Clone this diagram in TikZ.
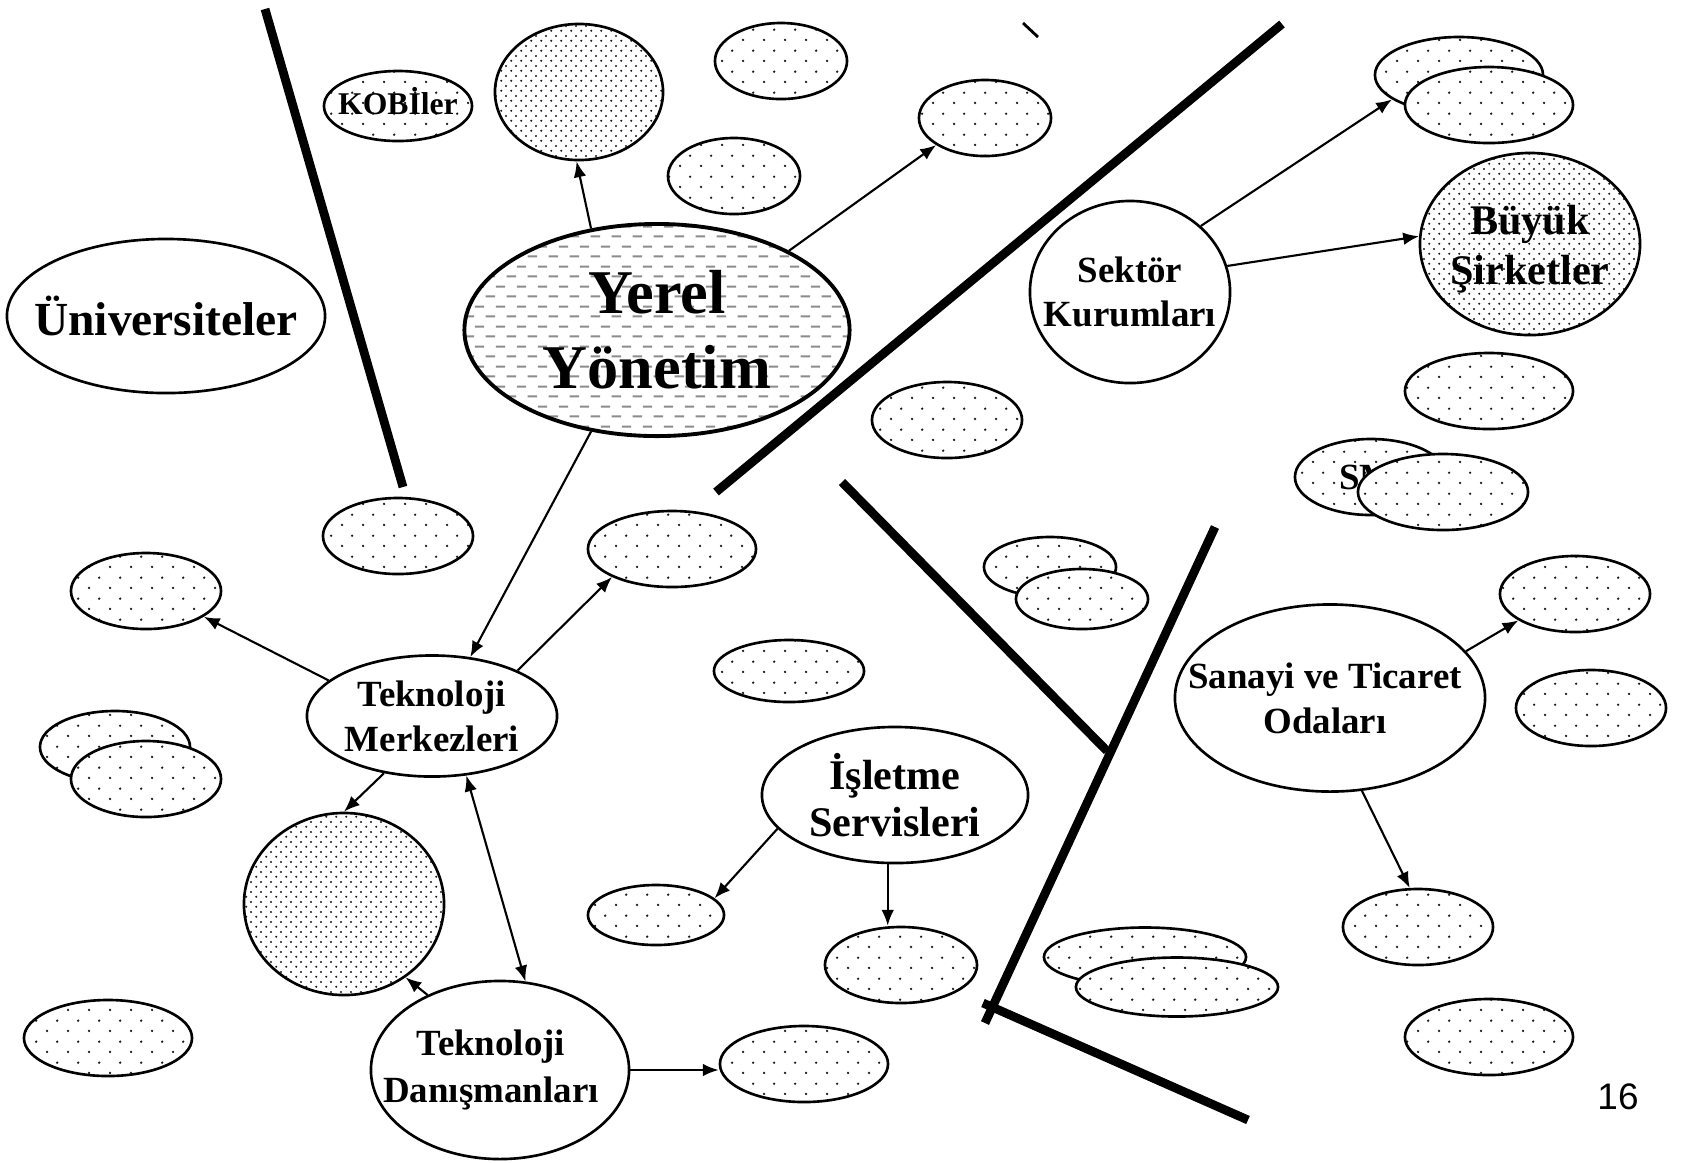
\documentclass[tikz,border=0pt]{standalone}
\usepackage{fontspec}
\setmainfont{Liberation Serif}
\newfontfamily\slidefont{Liberation Sans}
\usetikzlibrary{shapes.geometric}
\usetikzlibrary{arrows.meta}
\usetikzlibrary{patterns}

\pgfdeclarepatternformonly{sparsedots}{\pgfpointorigin}{\pgfpoint{6pt}{6pt}}{\pgfpoint{6pt}{6pt}}{%
  \pgfpathcircle{\pgfpoint{1.5pt}{1.5pt}}{0.38pt}%
  \pgfpathcircle{\pgfpoint{4.5pt}{4.5pt}}{0.38pt}%
  \pgfusepath{fill}}
\pgfdeclarepatternformonly{densedots}{\pgfpointorigin}{\pgfpoint{2.9pt}{2.9pt}}{\pgfpoint{2.9pt}{2.9pt}}{%
  \pgfpathcircle{\pgfpoint{0.7pt}{0.7pt}}{0.34pt}%
  \pgfpathcircle{\pgfpoint{2.15pt}{2.15pt}}{0.34pt}%
  \pgfusepath{fill}}
\pgfdeclarepatternformonly{dashrows}{\pgfpointorigin}{\pgfpoint{6pt}{5.7pt}}{\pgfpoint{6pt}{5.7pt}}{%
  \pgfpathrectangle{\pgfpoint{0.2pt}{1.1pt}}{\pgfpoint{2.8pt}{0.6pt}}%
  \pgfpathrectangle{\pgfpoint{3.2pt}{3.95pt}}{\pgfpoint{2.8pt}{0.6pt}}%
  \pgfusepath{fill}}

\tikzset{
  oval/.style={ellipse, draw, line width=0.75pt, inner sep=0pt},
  spot/.style={oval, preaction={fill=white}, pattern=sparsedots, pattern color=black!90},
  blot/.style={oval, preaction={fill=white}, pattern=densedots, pattern color=black!90},
  whiteoval/.style={oval, fill=white},
  lbl/.style={font=\bfseries\fontsize{10.5}{12.8}\selectfont, align=center, inner sep=0pt},
  link/.style={->, line width=0.6pt},
  wall/.style={line width=2.5pt}
}

\begin{document}
\begin{tikzpicture}[x=0.01cm, y=-0.01cm, >={Latex[length=4.5pt,width=3.6pt]}]
\useasboundingbox (0,0) rectangle (1681,1162);

% dividing lines
\draw[wall] (265,9) -- (403,487);
\draw[wall] (716,492) -- (1282,24);
\draw[wall] (842,482) -- (1107,751);
\draw[wall] (1215,527) -- (985,1023);
\draw[wall] (983,1003) -- (1248,1120);
\draw[line width=0.8pt] (1023,23) -- (1038,37);

% actors
\node[oval, line width=1.1pt, preaction={fill=white}, pattern=dashrows, pattern color=black!45,
  minimum width=3.85cm, minimum height=2.12cm,
  label={[lbl, font=\bfseries\fontsize{17.7}{21.3}\selectfont]center:{Yerel\\Yönetim}}] (yerel) at (657,330) {};
\node[whiteoval, minimum width=3.18cm, minimum height=1.54cm,
  label={[lbl, font=\bfseries\fontsize{13.5}{16}\selectfont]center:Üniversiteler}] (univ) at (166,316) {};
\node[whiteoval, minimum width=2.0cm, minimum height=1.82cm,
  label={[lbl, font=\bfseries\fontsize{10.5}{12.3}\selectfont]center:{Sektör\\Kurumları}}] (sektor) at (1130,292) {};
\node[blot, minimum width=2.2cm, minimum height=1.82cm,
  label={[lbl, yshift=-0.05cm, font=\bfseries\fontsize{12}{14.2}\selectfont]center:{Büyük\\Şirketler}}] (buyuk) at (1530,244) {};
\node[whiteoval, minimum width=2.5cm, minimum height=1.21cm,
  label={[lbl]center:{Teknoloji\\Merkezleri}}] (tekmer) at (432,716) {};
\node[whiteoval, minimum width=2.58cm, minimum height=1.78cm,
  label={[lbl, xshift=-0.09cm, font=\bfseries\fontsize{10.5}{13.5}\selectfont]center:{Teknoloji\\Danışmanları}}] (tekdan) at (500,1070) {};
\node[whiteoval, minimum width=2.66cm, minimum height=1.36cm,
  label={[lbl, font=\bfseries\fontsize{12}{13.5}\selectfont]center:{İşletme\\Servisleri}}] (isletme) at (895,795) {};
\node[whiteoval, minimum width=3.1cm, minimum height=1.87cm,
  label={[lbl, xshift=-0.05cm]center:{Sanayi ve Ticaret\\Odaları}}] (sanayi) at (1330,698) {};

% small blobs
\node[spot, minimum width=1.48cm, minimum height=0.70cm,
  label={[lbl, yshift=0.05cm, font=\bfseries\fontsize{9}{11}\selectfont]center:KOBİler}] (kobi) at (398,106) {};
\node[blot, minimum width=1.68cm, minimum height=1.36cm] (dtop) at (579,92) {};
\node[spot, minimum width=1.32cm, minimum height=0.76cm] (sA) at (781,61) {};
\node[spot, minimum width=1.32cm, minimum height=0.76cm] (sB) at (985,118) {};
\node[spot, minimum width=1.32cm, minimum height=0.76cm] (sC) at (734,176) {};
\node[spot, minimum width=1.50cm, minimum height=0.76cm] (sD) at (398,536) {};
\node[spot, minimum width=1.50cm, minimum height=0.76cm] (sE) at (146,591) {};
\node[spot, minimum width=1.68cm, minimum height=0.76cm] (sF) at (672,549) {};
\node[spot, minimum width=1.50cm, minimum height=0.72cm] (sG1) at (115,747) {};
\node[spot, minimum width=1.50cm, minimum height=0.76cm] (sG2) at (146,779) {};
\node[blot, minimum width=2.0cm, minimum height=1.82cm] (dleft) at (344,904) {};
\node[spot, minimum width=1.68cm, minimum height=0.76cm] (sH) at (108,1038) {};
\node[spot, minimum width=1.68cm, minimum height=0.76cm] (sI) at (804,1064) {};
\node[spot, minimum width=1.36cm, minimum height=0.60cm] (sJ) at (656,915) {};
\node[spot, minimum width=1.52cm, minimum height=0.76cm] (sK) at (901,965) {};
\node[spot, minimum width=1.50cm, minimum height=0.62cm] (sL) at (789,671) {};
\node[spot, minimum width=1.50cm, minimum height=0.76cm] (sM) at (947,420) {};
\node[spot, minimum width=1.68cm, minimum height=0.76cm] (sN1) at (1459,75) {};
\node[spot, minimum width=1.68cm, minimum height=0.76cm] (sN2) at (1489,105) {};
\node[spot, minimum width=1.68cm, minimum height=0.76cm] (sO) at (1489,391) {};
\node[spot, minimum width=1.52cm, minimum height=0.76cm,
  label={[lbl, xshift=-0.04cm]center:SM}] (sP1) at (1371,477) {};
\node[spot, minimum width=1.70cm, minimum height=0.76cm] (sP2) at (1443,492) {};
\node[spot, minimum width=1.32cm, minimum height=0.60cm] (sQ1) at (1050,567) {};
\node[spot, minimum width=1.32cm, minimum height=0.60cm] (sQ2) at (1082,599) {};
\node[spot, minimum width=1.50cm, minimum height=0.76cm] (sR) at (1575,594) {};
\node[spot, minimum width=1.50cm, minimum height=0.76cm] (sS) at (1591,708) {};
\node[spot, minimum width=1.50cm, minimum height=0.76cm] (sT) at (1418,927) {};
\node[spot, minimum width=1.68cm, minimum height=0.76cm] (sU) at (1489,1037) {};
\node[spot, minimum width=2.02cm, minimum height=0.59cm] (sV1) at (1145,957) {};
\node[spot, minimum width=2.02cm, minimum height=0.59cm] (sV2) at (1177,987) {};

% arrows
\draw[link] (yerel.123) -- (dtop.268);
\draw[link] (yerel.31) -- (sB.209);
\draw[link] (yerel.237) -- (tekmer.57);
\draw[link] (tekmer.161) -- (sE.336);
\draw[link] (tekmer.28) -- (sF.205);
\draw[link] (tekmer.230) -- (dleft.90);
\draw[link, <->] (tekmer.300) -- (tekdan.74);
\draw[link] (tekdan.134) -- (dleft.310);
\draw[link] (tekdan.east) -- (tekdan.east -| sI.west);
\draw[link] (isletme.196) -- (sJ.16);
\draw[link] (isletme.264) -- (isletme.264 |- sK.north);
\draw[link] (sektor.43) -- (sN1.200);
\draw[link] (sektor.15) -- (buyuk.176);
\draw[link] (sanayi.19) -- (sR.205);
\draw[link] (sanayi.289) -- (sT.102);

\node[font=\slidefont\fontsize{10.5}{12}\selectfont] (sayfa) at (1618,1097) {16};
\end{tikzpicture}
\end{document}
